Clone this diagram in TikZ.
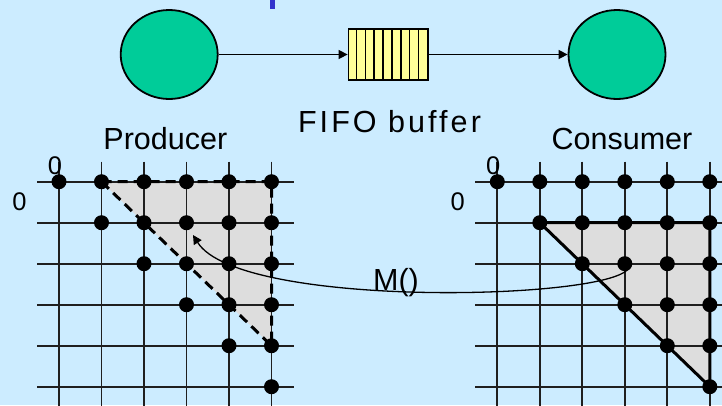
\documentclass[tikz,border=0pt]{standalone}
\usepackage{fontspec}
\setmainfont{Liberation Sans}
\newfontfamily\spacedfont[LetterSpace=10]{Liberation Sans}
\usetikzlibrary{shapes.geometric,arrows.meta}
\definecolor{slidebg}{RGB}{204,236,255}
\definecolor{procgreen}{RGB}{0,204,153}
\definecolor{bufyellow}{RGB}{255,255,153}
\definecolor{shadegray}{RGB}{221,221,221}
\definecolor{titleblue}{RGB}{51,51,204}
\tikzset{
  proc/.style={ellipse, draw, line width=1.8pt, fill=procgreen, minimum width=97pt, minimum height=89pt, inner sep=0pt},
  lbl/.style={font=\fontsize{30.5}{36}\selectfont, anchor=base, inner sep=0pt},
  idx/.style={font=\fontsize{25.5}{30}\selectfont, inner sep=0pt},
  pt/.style={circle, fill=black, minimum size=15pt, inner sep=0pt},
  gridline/.style={line width=1.8pt, draw=black!88},
  flow/.style={line width=1.5pt, -{Triangle[length=9pt,width=9pt]}},
}
\begin{document}
\begin{tikzpicture}[x=1pt,y=-1pt]
\useasboundingbox[fill=slidebg] (0,0) rectangle (722,405);
\clip (0,0) rectangle (722,405);
\fill[titleblue] (270,0) rectangle (274.7,8.7);

% producer -> buffer -> consumer
\node[proc] (prod) at (169.2,54.5) {};
\node[proc] (cons) at (617,54.5) {};
\node[draw, line width=1.5pt, fill=bufyellow, minimum width=79.7pt, minimum height=50.7pt, inner sep=0pt] (buf) at (388.2,54.5) {};
\foreach \k in {1,...,8}
  \draw[line width=1.5pt] ([xshift=\k*8.86pt]buf.south west) -- ([xshift=\k*8.86pt]buf.north west);
\draw[flow] (prod) -- (buf);
\draw[flow] (buf) -- (cons);
\node[lbl] (prodlbl) at (165.3,149.3) {Producer};
\node[lbl] (conslbl) at (622,149.3) {Consumer};
\node[lbl] (buflbl) at (389.5,132.3) {\spacedfont FIFO buffer};

% iteration spaces
\foreach \g/\ox in {p/59,c/497.3}
  \foreach \i in {0,...,5}
    \foreach \j in {0,...,5}
      \coordinate (\g-\i-\j) at (\ox+42.5*\j,181.7+41*\i);
\fill[shadegray] (p-0-1) -- (p-0-5) -- (p-4-5) -- cycle;
\fill[shadegray] (c-1-1) -- (c-1-5) -- (c-5-5) -- cycle;
\foreach \g in {p,c}
  \foreach \k in {0,...,5} {
    \draw[gridline] ([xshift=-22pt]\g-\k-0) -- ([xshift=22pt]\g-\k-5);
    \draw[gridline] ([yshift=20pt]\g-0-\k) -- ([yshift=-30pt]\g-5-\k);
  }
\draw[line width=3pt, dash pattern=on 10pt off 6pt] (p-0-1) -- (p-0-5) -- (p-4-5) -- cycle;
\draw[line width=3pt, line join=round] (c-1-1) -- (c-1-5) -- (c-5-5) -- cycle;
\foreach \g in {p,c}
  \foreach \i in {0,...,5}
    \foreach \j in {\i,...,5}
      \node[pt] (\g-\i-\j-dot) at (\g-\i-\j) {};
\node[idx] (ptop) at ([shift={(-4pt,16pt)}]p-0-0) {0};
\node[idx] (pleft) at ([shift={(-39.5pt,-19.6pt)}]p-0-0) {0};
\node[idx] (ctop) at ([shift={(-4pt,16pt)}]c-0-0) {0};
\node[idx] (cleft) at ([shift={(-39.5pt,-19.6pt)}]c-0-0) {0};

% mapping
\coordinate (mfrom) at (629,267);
\coordinate (mto) at (193,235);
\draw[line width=1.3pt, -{Triangle[length=9pt,width=9pt]}] (mfrom) .. controls (620,300) and (240,310) .. (mto);
\node[lbl] (mlbl) at (396,290) {M()};
\end{tikzpicture}
\end{document}
